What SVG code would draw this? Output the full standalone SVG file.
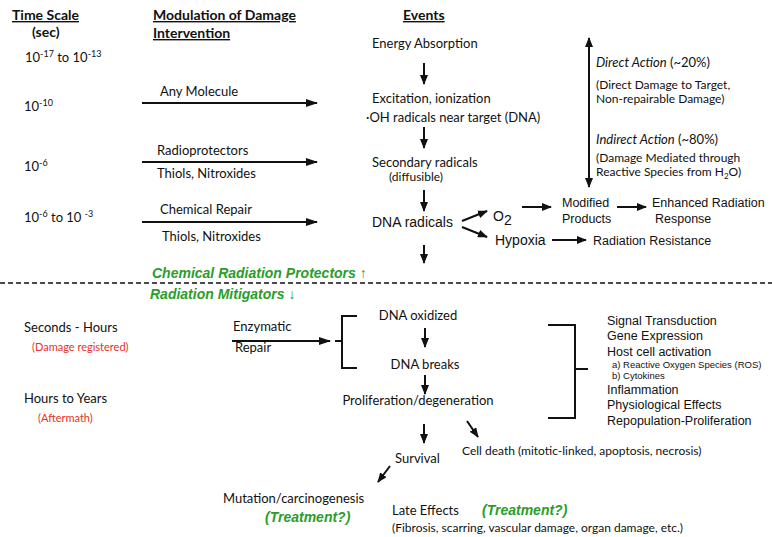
<svg xmlns="http://www.w3.org/2000/svg" width="772" height="537" viewBox="0 0 772 537">
<style>
text{fill:#111}
.c{font-family:Lato,"Open Sans","Liberation Sans",sans-serif;font-size:13px}
.s{font-family:Lato,"Open Sans","Liberation Sans",sans-serif;font-size:12px}
.h{font-family:Lato,"Liberation Sans",sans-serif;font-size:14px;font-weight:bold;text-decoration:underline}
.a{font-family:"Liberation Sans",Arial,sans-serif;font-size:12.5px}
.a14{font-family:"Liberation Sans",Arial,sans-serif;font-size:14px}
.sm{font-family:"Liberation Sans",Arial,sans-serif;font-size:9.5px}
.g{font-family:"Liberation Sans",Arial,sans-serif;font-size:14px;font-weight:bold;font-style:italic;fill:#2a9d2a}
.r{font-family:Lato,"Liberation Sans",sans-serif;font-size:11px;fill:#e8302a}
.ar{fill:none;stroke:#111;stroke-width:2;marker-end:url(#ah)}
.ln{fill:none;stroke:#111;stroke-width:2}
</style>
<defs>
<marker id="ah" markerUnits="userSpaceOnUse" markerWidth="12" markerHeight="8" refX="11" refY="4" orient="auto-start-reverse"><path d="M0,0 L12,4 L0,8 z" fill="#111"/></marker>
<marker id="ahs" markerUnits="userSpaceOnUse" markerWidth="10" markerHeight="8" refX="9" refY="4" orient="auto-start-reverse"><path d="M0,0 L10,4 L0,8 z" fill="#111"/></marker>
</defs>
<rect width="772" height="537" fill="#fff"/>

<g id="headers">
<text class="h" x="12" y="20">Time Scale</text>
<text class="h" x="32" y="37" style="text-decoration:none">(sec)</text>
<text class="h" x="153" y="20">Modulation of Damage</text>
<text class="h" x="153" y="38">Intervention</text>
<text class="h" x="403" y="20">Events</text>
</g>

<g id="time-scale">
<text class="c" x="25" y="62">10<tspan font-size="9" dy="-5">-17</tspan><tspan dy="5"> to 10</tspan><tspan font-size="9" dy="-5">-13</tspan></text>
<text class="c" x="24" y="111">10<tspan font-size="9" dy="-5">-10</tspan></text>
<text class="c" x="24" y="171">10<tspan font-size="9" dy="-5">-6</tspan></text>
<text class="c" x="24" y="222">10<tspan font-size="9" dy="-5">-6</tspan><tspan dy="5"> to 10 </tspan><tspan font-size="9" dy="-5">-3</tspan></text>
<text class="c" x="24" y="332">Seconds - Hours</text>
<text class="r" x="32" y="351">(Damage registered)</text>
<text class="c" x="24" y="403">Hours to Years</text>
<text class="r" x="38" y="422">(Aftermath)</text>
</g>

<g id="interventions">
<text class="c" x="160" y="96">Any Molecule</text>
<text class="c" x="157" y="155">Radioprotectors</text>
<text class="c" x="157" y="178">Thiols, Nitroxides</text>
<text class="c" x="160" y="214">Chemical Repair</text>
<text class="c" x="162" y="241">Thiols, Nitroxides</text>
<text class="c" x="233" y="331">Enzymatic</text>
<text class="c" x="235" y="352">Repair</text>
</g>

<g id="events">
<text class="c" x="372" y="48">Energy Absorption</text>
<text class="c" x="372" y="103">Excitation, ionization</text>
<text class="c" x="366" y="122">·OH radicals near target (DNA)</text>
<text class="c" x="372" y="167">Secondary radicals</text>
<text class="s" x="389" y="181">(diffusible)</text>
<text class="a14" x="372" y="227">DNA radicals</text>
<text class="a14" x="493" y="221" font-size="16">O<tspan dy="4">2</tspan></text>
<text class="a" x="562" y="207">Modified</text>
<text class="a" x="562" y="223">Products</text>
<text class="a" x="652" y="207">Enhanced Radiation</text>
<text class="a" x="655" y="223">Response</text>
<text class="a14" x="495" y="245">Hypoxia</text>
<text class="a" x="593" y="245">Radiation Resistance</text>
</g>

<g id="actions">
<text class="c" x="596" y="67"><tspan font-style="italic">Direct Action</tspan> (~20%)</text>
<text class="s" x="596" y="89">(Direct Damage to Target,</text>
<text class="s" x="596" y="103">Non-repairable Damage)</text>
<text class="c" x="596" y="144"><tspan font-style="italic">Indirect Action</tspan> (~80%)</text>
<text class="s" x="596" y="162">(Damage Mediated through</text>
<text class="s" x="596" y="176">Reactive Species from H<tspan font-size="8" dy="3">2</tspan><tspan dy="-3">O)</tspan></text>
</g>

<g id="divider">
<text class="g" x="152" y="278">Chemical Radiation Protectors <tspan font-weight="normal" font-style="normal">↑</tspan></text>
<line x1="0" y1="283" x2="772" y2="283" stroke="#111" stroke-width="1.5" stroke-dasharray="5,3"/>
<text class="g" x="150" y="299">Radiation Mitigators <tspan font-weight="normal" font-style="normal">↓</tspan></text>
</g>

<g id="late-events">
<text class="c" x="418" y="320" text-anchor="middle">DNA oxidized</text>
<text class="c" x="425" y="369" text-anchor="middle">DNA breaks</text>
<text class="c" x="418" y="405" text-anchor="middle">Proliferation/degeneration</text>
<text class="c" x="395" y="463">Survival</text>
<text class="s" x="462" y="455">Cell death (mitotic-linked, apoptosis, necrosis)</text>
<text class="c" x="223" y="503">Mutation/carcinogenesis</text>
<text class="g" x="265" y="522" font-size="13">(Treatment?)</text>
<text class="c" x="392" y="515">Late Effects</text>
<text class="g" x="482" y="515" font-size="13">(Treatment?)</text>
<text class="s" x="392" y="532">(Fibrosis, scarring, vascular damage, organ damage, etc.)</text>
</g>

<g id="responses">
<text class="a" x="607" y="325">Signal Transduction</text>
<text class="a" x="607" y="340">Gene Expression</text>
<text class="a" x="607" y="356">Host cell activation</text>
<text class="sm" x="612" y="368">a) Reactive Oxygen Species (ROS)</text>
<text class="sm" x="612" y="379">b) Cytokines</text>
<text class="a" x="607" y="394">Inflammation</text>
<text class="a" x="607" y="409">Physiological Effects</text>
<text class="a" x="607" y="425">Repopulation-Proliferation</text>
</g>

<g id="connectors">
<path class="ar" d="M142,103 H317" stroke-width="2.5"/>
<path class="ar" d="M142,162 H317" stroke-width="2.5"/>
<path class="ar" d="M142,222 H317" stroke-width="2.5"/>
<path class="ar" d="M232,341 H330" stroke-width="2.5"/>
<path class="ar" d="M424,63 V84" style="marker-end:url(#ahs)"/>
<path class="ar" d="M424,127 V148" style="marker-end:url(#ahs)"/>
<path class="ar" d="M424,190 V211" style="marker-end:url(#ahs)"/>
<path class="ar" d="M424,245 V263" style="marker-end:url(#ahs)"/>
<path class="ar" d="M425,328 V347" style="marker-end:url(#ahs)"/>
<path class="ar" d="M425,375 V394" style="marker-end:url(#ahs)"/>
<path class="ar" d="M424,424 V443" style="marker-end:url(#ahs)"/>
<path class="ar" d="M462,221 L487,211" style="marker-end:url(#ahs)"/>
<path class="ar" d="M462,227 L487,237" style="marker-end:url(#ahs)"/>
<path class="ar" d="M522,207 H551" style="marker-end:url(#ahs)"/>
<path class="ar" d="M617,207 H646" style="marker-end:url(#ahs)"/>
<path class="ar" d="M552,240 H586" style="marker-end:url(#ahs)"/>
<path class="ar" d="M589,38 V187" style="marker-start:url(#ahs);marker-end:url(#ahs)"/>
<path class="ar" d="M467,421 L478,437" style="marker-end:url(#ahs)"/>
<path class="ar" d="M390,466 L378,482" style="marker-end:url(#ahs)"/>
<path class="ln" d="M335,341 H342 M357,316 H342 V368 H357"/>
<path class="ln" d="M548,325 H575 V418 H548 M575,369 H588"/>
</g>
</svg>
